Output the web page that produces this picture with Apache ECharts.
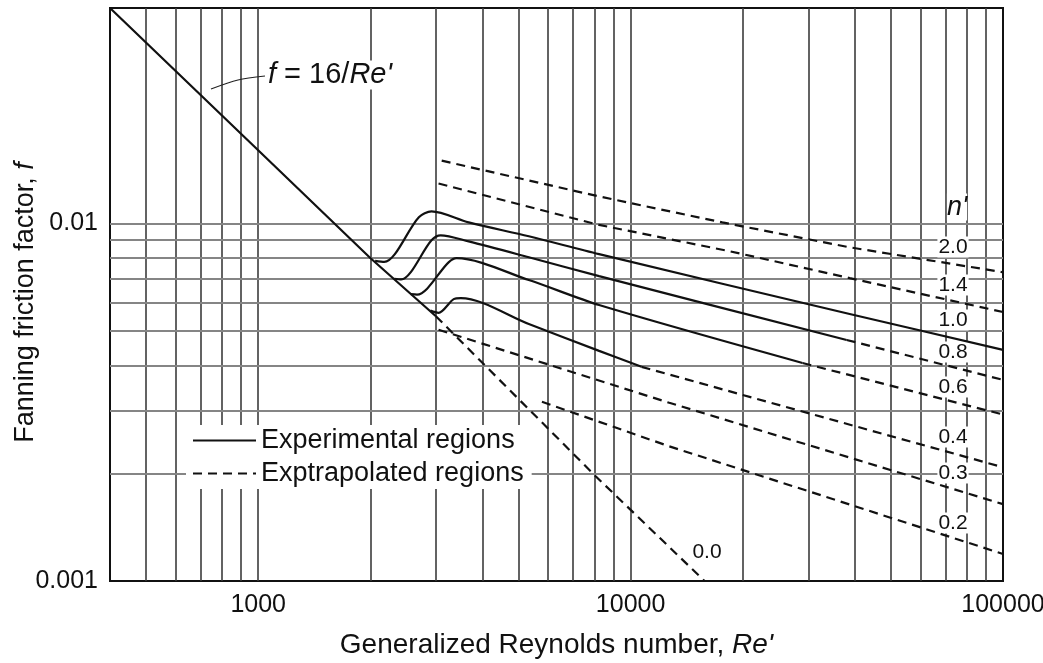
<!DOCTYPE html>
<html>
<head>
<meta charset="utf-8">
<script src="https://cdn.jsdelivr.net/npm/echarts@6/dist/echarts.min.js"></script>
<style>
html, body { margin: 0; padding: 0; background: #fff; }
#main { width: 1043px; height: 663px; }
</style>
</head>
<body>
<div id="main"></div>
<script>
// [Re', f] pairs
var laminar = [[400, 0.04], [1000, 0.016], [2000, 0.008], [3000, 0.0055]];
var laminarExt = [[3000, 0.0055], [8070, 0.00196], [15800, 0.001]];

var n20 = [[3110, 0.01497], [8230, 0.01189], [17630, 0.01006], [38750, 0.00857], [100000, 0.0073]];
var n14 = [[3050, 0.01292], [8230, 0.0099], [18410, 0.00836], [38750, 0.00703], [100000, 0.00565]];
var n10 = [[2060, 0.00785], [2180, 0.0078], [2700, 0.0104], [2920, 0.0108], [3675, 0.01006], [5330, 0.0092], [8230, 0.0082], [38750, 0.00558], [100000, 0.00443]];
var n08 = [[2320, 0.007], [2420, 0.00697], [2920, 0.00897], [3090, 0.00926], [3675, 0.0089], [5330, 0.00804], [8230, 0.00712], [38030, 0.00472]];
var n08Ext = [[38030, 0.00472], [100000, 0.00365]];
var n06 = [[2570, 0.00634], [2670, 0.00632], [3250, 0.00779], [3410, 0.00799], [5330, 0.00694], [8230, 0.00591], [28950, 0.00407]];
var n06Ext = [[28950, 0.00407], [100000, 0.00292]];
var n04 = [[2900, 0.0057], [3050, 0.00562], [3350, 0.00614], [3500, 0.00618], [5330, 0.00523], [8230, 0.0044], [10700, 0.00397]];
var n04Ext = [[10700, 0.00397], [100000, 0.00208]];
var n03 = [[3050, 0.00504], [12700, 0.00315], [100000, 0.00164]];
var n02 = [[5780, 0.00317], [12700, 0.00238], [100000, 0.00119]];

var gridRe = [500, 600, 700, 800, 900, 1000, 2000, 3000, 4000, 5000, 6000, 7000, 8000, 9000,
    10000, 20000, 30000, 40000, 50000, 60000, 70000, 80000, 90000];
var gridF = [0.002, 0.003, 0.004, 0.005, 0.006, 0.007, 0.008, 0.009, 0.01];

var nLabels = ['2.0', '1.4', '1.0', '0.8', '0.6', '0.4', '0.3', '0.2'];

var FONT = '"Liberation Sans", Arial, Helvetica, sans-serif';
var SOLID = 'Experimental regions';
var DASHED = 'Exptrapolated regions';
var RE_MIN = 400, RE_MAX = 100000;

var chart = echarts.init(document.getElementById('main'));

function curve(name, data, smooth) {
    return {
        type: 'line',
        name: name,
        data: data,
        symbol: 'none',
        smooth: smooth || false,
        z: 3,
        silent: true,
        lineStyle: {
            color: '#111',
            width: 2.2,
            type: name === DASHED ? [9, 6] : 'solid'
        }
    };
}

function buildSeries() {
    var gridLines = [];
    for (var i = 0; i < gridRe.length; i++) gridLines.push({ xAxis: gridRe[i], lineStyle: { color: '#3c3c3c', width: 1.6 } });
    // horizontal ones as explicit pairs, the yAxis shortcut misbehaves on a log axis
    for (var j = 0; j < gridF.length; j++) {
        gridLines.push([
            { coord: [RE_MIN, gridF[j]], lineStyle: { color: '#858585', width: 1.8 } },
            { coord: [RE_MAX, gridF[j]] }
        ]);
    }
    var series = [
        curve(SOLID, laminar),
        curve(DASHED, laminarExt),
        curve(DASHED, n20),
        curve(DASHED, n14),
        curve(SOLID, n10, 0.3),
        curve(SOLID, n08, 0.3),
        curve(DASHED, n08Ext),
        curve(SOLID, n06, 0.3),
        curve(DASHED, n06Ext),
        curve(SOLID, n04, 0.3),
        curve(DASHED, n04Ext),
        curve(DASHED, n03),
        curve(DASHED, n02)
    ];
    series.push({
        type: 'line',
        name: 'grid',
        data: [],
        z: 1,
        silent: true,
        markLine: {
            z: 1,
            silent: true,
            symbol: ['none', 'none'],
            label: { show: false },
            lineStyle: { type: 'solid' },
            data: gridLines
        }
    });
    return series;
}

function labelGraphics() {
    var ys = [247, 285, 320, 352, 387, 437, 473, 523];
    var els = [];
    for (var i = 0; i < nLabels.length; i++) {
        els.push({
            type: 'text', x: 953, y: ys[i], z: 2,
            style: { text: nLabels[i], fill: '#111', font: '21px ' + FONT, align: 'center', verticalAlign: 'middle', backgroundColor: '#fff', padding: [0, 1] }
        });
    }
    els.push({
        type: 'text', x: 707, y: 552, z: 2,
        style: { text: '0.0', fill: '#111', font: '21px ' + FONT, align: 'center', verticalAlign: 'middle', backgroundColor: '#fff' }
    });
    els.push({
        type: 'text', x: 957, y: 207, z: 2,
        style: { text: "n'", fill: '#111', font: 'italic 27px ' + FONT, align: 'center', verticalAlign: 'middle', backgroundColor: '#fff' }
    });
    els.push({
        type: 'text', x: 266, y: 75, z: 2,
        style: {
            text: "{i|f} = 16/{i|Re'}", fill: '#111', font: '29px ' + FONT, align: 'left', verticalAlign: 'middle',
            backgroundColor: '#fff', padding: [0, 2],
            rich: { i: { fontStyle: 'italic', fontSize: 29, fontFamily: FONT } }
        }
    });
    els.push({
        type: 'polyline', z: 2,
        shape: { points: [[211, 89], [238, 80], [265, 76]], smooth: 0.3 },
        style: { stroke: '#222', lineWidth: 1.2, fill: null }
    });
    return els;
}

function option() {
    return {
        animation: false,
        backgroundColor: '#fff',
        grid: {
            left: 110, right: 40, top: 8, bottom: 82,
            outerBoundsMode: 'none', containLabel: false,
            show: true, borderColor: '#111', borderWidth: 2, backgroundColor: 'transparent'
        },
        legend: {
            data: [SOLID, DASHED],
            orient: 'vertical',
            left: 186,
            top: 425,
            z: 4,
            itemWidth: 63,
            itemHeight: 14,
            itemGap: 6,
            padding: [2, 8, 2, 6],
            backgroundColor: '#fff',
            selectedMode: false,
            itemStyle: { opacity: 0 },
            textStyle: { fontSize: 27, color: '#111', fontFamily: FONT }
        },
        xAxis: {
            type: 'log',
            logBase: 10,
            min: RE_MIN,
            max: RE_MAX,
            name: "Generalized Reynolds number, {i|Re'}",
            nameLocation: 'middle',
            nameGap: 50,
            nameMoveOverlap: false,
            nameTextStyle: { fontSize: 28, color: '#111', fontFamily: FONT, rich: { i: { fontStyle: 'italic', fontSize: 28, fontFamily: FONT, color: '#111' } } },
            axisLine: { lineStyle: { color: '#111', width: 2 } },
            axisTick: { show: false },
            splitLine: { show: false },
            axisLabel: {
                fontSize: 25, color: '#111', fontFamily: FONT, margin: 12,
                showMinLabel: false,
                formatter: function (v) { return String(Math.round(v)); }
            }
        },
        yAxis: {
            type: 'log',
            logBase: 10,
            min: 0.001,
            max: 0.04,
            name: 'Fanning friction factor, {i|f}',
            nameLocation: 'middle',
            nameGap: 71,
            nameMoveOverlap: false,
            nameTextStyle: { fontSize: 27, color: '#111', fontFamily: FONT, padding: [0, 16, 0, 0], rich: { i: { fontStyle: 'italic', fontSize: 27, fontFamily: FONT, color: '#111' } } },
            axisLine: { lineStyle: { color: '#111', width: 2 } },
            axisTick: { show: false },
            splitLine: { show: false },
            axisLabel: {
                fontSize: 25, color: '#111', fontFamily: FONT, margin: 12,
                showMaxLabel: false,
                formatter: function (v) { return String(+(+v).toPrecision(3)); }
            }
        },
        graphic: { elements: labelGraphics() },
        series: buildSeries()
    };
}

chart.setOption(option());
</script>
</body>
</html>
